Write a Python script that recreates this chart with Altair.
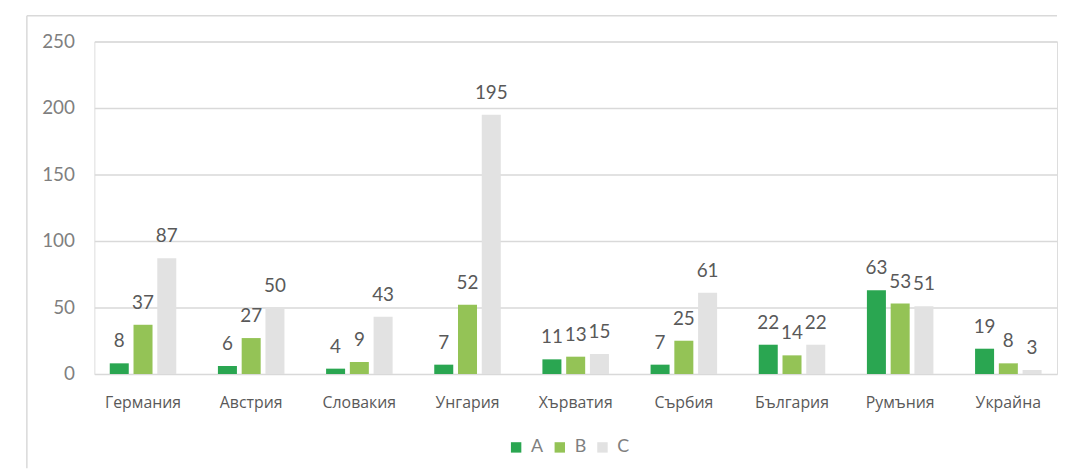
import altair as alt
import pandas as pd

countries = ["Германия", "Австрия", "Словакия", "Унгария", "Хърватия",
             "Сърбия", "България", "Румъния", "Украйна"]
series_a = [8, 6, 4, 7, 11, 7, 22, 63, 19]
series_b = [37, 27, 9, 52, 13, 25, 14, 53, 8]
series_c = [87, 50, 43, 195, 15, 61, 22, 51, 3]
series_names = ["A", "B", "C"]
colors = ["#2AA651", "#94C356", "#E2E2E2"]

rows = []
for i, c in enumerate(countries):
    for s, vals in zip(series_names, [series_a, series_b, series_c]):
        rows.append({"country": c, "series": s, "value": vals[i]})
df = pd.DataFrame(rows)

W = 970
H = 335

base = alt.Chart(df).encode(
    x=alt.X("country:N", sort=countries,
            scale=alt.Scale(paddingInner=0.385, paddingOuter=0.1425),
            axis=alt.Axis(title=None, labelAngle=0, ticks=False, domain=False,
                          labelFont="Open Sans", labelFontSize=16,
                          labelColor="#595959", labelPadding=21)),
    xOffset=alt.XOffset("series:N", sort=series_names,
                        scale=alt.Scale(paddingInner=0.2, paddingOuter=0)),
    y=alt.Y("value:Q", scale=alt.Scale(domain=[0, 250], nice=False),
            axis=alt.Axis(title=None, values=[0, 50, 100, 150, 200, 250],
                          ticks=False, domain=False, labelFont="Lato",
                          labelFontSize=19, labelColor="#7F7F7F",
                          labelPadding=20, gridColor="#D9D9D9", gridWidth=1.5)),
)

bars = base.mark_bar().encode(
    color=alt.Color("series:N", sort=series_names,
                    scale=alt.Scale(domain=series_names, range=colors),
                    legend=alt.Legend(title=None, orient="none", direction="horizontal",
                                      legendX=416, legendY=400,
                                      symbolType="square", symbolSize=110,
                                      symbolStrokeWidth=0,
                                      labelFont="Lato", labelFontSize=18,
                                      labelColor="#7F7F7F", columnPadding=7,
                                      labelOffset=6))
)

labels = base.mark_text(baseline="bottom", dy=-12, font="Lato", fontSize=19,
                        color="#595959").encode(text="value:Q")

frame_top = alt.Chart(pd.DataFrame({"k": [0]})).mark_rule(
    color="#D9D9D9", strokeWidth=1.5).encode(
    x=alt.value(-68), x2=alt.value(W), y=alt.value(-26))
frame_left = alt.Chart(pd.DataFrame({"k": [0]})).mark_rule(
    color="#D9D9D9", strokeWidth=1.5).encode(
    x=alt.value(-68), y=alt.value(-26), y2=alt.value(430))

chart = alt.layer(frame_top, frame_left, bars, labels).properties(
    width=W, height=H, padding={"left": 18, "top": 5, "right": 0, "bottom": 0}
).configure_view(stroke=None).configure(background="white")

chart.save("out.html", embed_options={"renderer": "svg", "actions": False})
